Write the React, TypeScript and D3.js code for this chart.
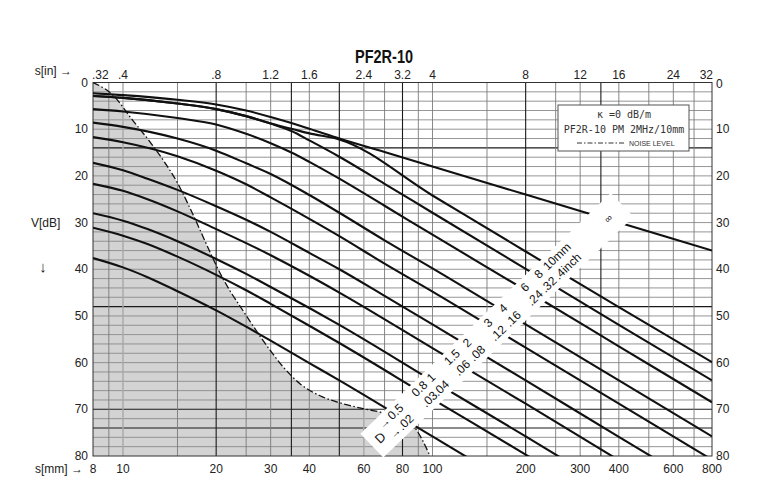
import React from 'react';
import * as d3 from 'd3';

// ---------- data ----------
const S_MM_TICKS = [8, 10, 20, 30, 40, 60, 80, 100, 200, 300, 400, 600, 800];
const S_IN_TICKS = ['.32', '.4', '.8', '1.2', '1.6', '2.4', '3.2', '4', '8', '12', '16', '24', '32'];
const DB_TICKS = [0, 10, 20, 30, 40, 50, 60, 70, 80];

const GRID_S = [9, 15, 25, 30, 40, 70, 90, 100, 150, 250, 300, 400, 500, 600, 700];
const GRID_S_LIGHT = [10, 60];
const GRID_S_DARK = [20, 35, 50, 80, 200, 350];
const GRID_DB_DARK = [14, 48, 70, 74];

const CURVE_INF = [[8, 2.3], [10, 2.7], [15, 3.7], [20, 4.7], [25, 6.0], [30, 7.4], [35, 8.7], [40, 9.9], [50, 12.0], [70, 14.9], [100, 18.0], [200, 24.0], [400, 30.0], [800, 36.0]];
const CURVE_D10 = [[8, 2.9], [10, 3.3], [15, 4.5], [20, 5.7], [25, 7.2], [30, 8.8], [35, 9.9], [40, 10.9], [50, 12.2], [100, 24.2], [200, 36.2], [400, 48.1], [800, 59.9]];
const CURVE_D8 = [[8, 2.9], [10, 3.3], [15, 4.5], [20, 5.7], [25, 7.2], [30, 8.8], [35, 10.4], [40, 12.4], [50, 15.9], [70, 21.7], [100, 27.9], [200, 39.9], [400, 51.9], [800, 63.8]];
const CURVE_D6 = [[8, 5.7], [10, 6.2], [15, 7.6], [20, 9.0], [25, 11.0], [30, 13.0], [35, 15.0], [40, 17.0], [50, 20.6], [70, 26.4], [100, 32.6], [200, 44.5], [400, 56.5], [800, 68.5]];
const CURVE_D4 = [[8, 8.6], [10, 9.5], [15, 12.0], [20, 14.6], [25, 17.3], [30, 19.6], [40, 24.1], [50, 27.9], [70, 33.8], [100, 39.8], [200, 51.8], [400, 63.8], [800, 75.8]];
const CURVE_D3 = [[8, 11.7], [10, 12.8], [15, 15.8], [20, 18.9], [25, 21.8], [30, 24.6], [40, 29.2], [50, 32.9], [70, 38.8], [100, 44.8], [200, 56.8], [400, 68.8], [800, 80.8]];
const CURVE_D2 = [[8, 17.2], [10, 18.8], [12, 20.6], [15, 23.0], [20, 26.5], [25, 29.4], [30, 32.0], [40, 36.5], [50, 40.0], [70, 45.7], [100, 51.8], [200, 63.8], [400, 75.9], [800, 87.9]];
const CURVE_D15 = [[8, 21.7], [10, 23.2], [12, 25.0], [15, 27.6], [20, 31.4], [25, 34.4], [30, 37.0], [40, 41.4], [50, 45.0], [100, 56.9], [200, 68.8], [400, 80.9]];
const CURVE_D1 = [[8, 28.0], [10, 29.6], [12, 31.4], [15, 34.0], [20, 37.8], [25, 41.0], [30, 43.8], [40, 48.3], [50, 51.9], [100, 63.9], [200, 75.8], [400, 87.9]];
const CURVE_D08 = [[8, 31.1], [10, 32.8], [12, 34.6], [15, 37.3], [20, 41.2], [25, 44.5], [30, 47.4], [40, 52.1], [50, 55.8], [100, 67.8], [200, 79.7], [400, 91.8]];
const CURVE_D05 = [[8, 37.6], [10, 39.6], [12, 41.7], [15, 44.7], [20, 48.8], [25, 52.3], [30, 55.3], [40, 60.1], [50, 63.8], [100, 75.8], [200, 87.8]];

const NOISE = [[8, 0], [9.28, 2.7], [10.78, 8.2], [12.22, 12.7], [13.67, 17.2], [14.94, 21.3], [16.46, 26.9], [17.74, 31.6], [19.1, 36.3], [20.58, 40.8], [22.16, 44.6], [23.88, 47.9], [25.7, 51.1], [27.7, 54.3], [29.85, 57.3], [32.9, 60.9], [37.3, 64.5], [43.3, 67.1], [50.2, 68.6], [58.3, 69.7], [67.7, 70.6], [78.5, 71.8], [87.8, 74.0], [98.2, 80]];

const ALL_CURVES = [CURVE_INF, CURVE_D10, CURVE_D8, CURVE_D6, CURVE_D4, CURVE_D3, CURVE_D2, CURVE_D15, CURVE_D1, CURVE_D08, CURVE_D05];
const D_CURVES = [CURVE_D05, CURVE_D08, CURVE_D1, CURVE_D15, CURVE_D2, CURVE_D3, CURVE_D4, CURVE_D6, CURVE_D8, CURVE_D10];
const D_MM = ['0.5', '0.8', '1', '1.5', '2', '3', '4', '6', '8', '10'];
const D_IN = ['.02', '.03', '.04', '.06', '.08', '.12', '.16', '.24', '.32', '.4'];

// band (white label strip) ends, in (s mm, dB)
const BAND_START = [63.7, 77.8];
const BAND_END = [410, 26.2];

const SANS = "'Liberation Sans', Arial, Helvetica, sans-serif";

function estW(t: string, fs: number) {
  let w = 0;
  for (const c of t) w += c === '.' ? 0.278 : 0.556;
  return w * fs;
}

export default function App() {
  const x = d3.scaleLog().domain([8, 800]).range([93, 712]);
  const y = d3.scaleLinear().domain([0, 80]).range([82.5, 456]);
  const [X0, X1] = x.range();
  const [Y0, Y1] = y.range();

  const line = d3.line<number[]>().x(d => x(d[0])).y(d => y(d[1])).curve(d3.curveMonotoneX);
  const area = d3.area<number[]>().x(d => x(d[0])).y0(y(80)).y1(d => y(d[1])).curve(d3.curveMonotoneX);

  const gridDb = d3.range(2, 80, 2);

  // band geometry
  const b0 = [x(BAND_START[0]), y(BAND_START[1])];
  const b1 = [x(BAND_END[0]), y(BAND_END[1])];
  const L = Math.hypot(b1[0] - b0[0], b1[1] - b0[1]);
  const u = [(b1[0] - b0[0]) / L, (b1[1] - b0[1]) / L];
  const n = [-u[1], u[0]];
  const ang = (Math.atan2(u[1], u[0]) * 180) / Math.PI;
  const hw = 16.5;
  const bandPts = [
    [b0[0] - hw * n[0], b0[1] - hw * n[1]],
    [b1[0] - hw * n[0], b1[1] - hw * n[1]],
    [b1[0] + hw * n[0], b1[1] + hw * n[1]],
    [b0[0] + hw * n[0], b0[1] + hw * n[1]],
  ];

  const crossing = (pts: number[][]) => {
    const P = pts.map(d => [x(d[0]), y(d[1])]);
    for (let i = 0; i < P.length - 1; i++) {
      const f0 = (P[i][0] - b0[0]) * n[0] + (P[i][1] - b0[1]) * n[1];
      const f1 = (P[i + 1][0] - b0[0]) * n[0] + (P[i + 1][1] - b0[1]) * n[1];
      if (f0 * f1 <= 0 && f0 !== f1) {
        const t = f0 / (f0 - f1);
        return [P[i][0] + t * (P[i + 1][0] - P[i][0]), P[i][1] + t * (P[i + 1][1] - P[i][1])];
      }
    }
    return [0, 0];
  };

  const at = (p: number[], du: number, dn: number) => [p[0] + du * u[0] + dn * n[0], p[1] + du * u[1] + dn * n[1]];

  const fsBand = 12;
  const bandTexts: { p: number[]; t: string; anchor: string; fs: number }[] = [];
  D_CURVES.forEach((c, i) => {
    const p = crossing(c);
    const last = i === D_CURVES.length - 1;
    if (last) {
      bandTexts.push({ p: at(p, -estW(D_MM[i], fsBand) / 2, -8), t: D_MM[i] + 'mm', anchor: 'start', fs: fsBand });
      bandTexts.push({ p: at(p, -estW(D_IN[i], fsBand) / 2, 6.5), t: D_IN[i] + 'inch', anchor: 'start', fs: fsBand });
    } else {
      bandTexts.push({ p: at(p, 0, -8), t: D_MM[i], anchor: 'middle', fs: fsBand });
      bandTexts.push({ p: at(p, 0, 6.5), t: D_IN[i], anchor: 'middle', fs: fsBand });
    }
  });
  const p05 = crossing(CURVE_D05);
  bandTexts.push({ p: at(p05, -29, 0), t: 'D', anchor: 'middle', fs: 13 });
  bandTexts.push({ p: at(p05, -16, -8), t: '→', anchor: 'middle', fs: 11 });
  bandTexts.push({ p: at(p05, -15, 6.5), t: '→', anchor: 'middle', fs: 11 });
  const pInf = crossing(CURVE_INF);
  bandTexts.push({ p: at(pInf, 1, 0), t: '∞', anchor: 'middle', fs: 10 });

  return (
    <svg width={767} height={500} style={{ position: 'absolute', left: 0, top: 0, background: '#fff' }}>
      <defs>
        <clipPath id="plotclip">
          <rect x={X0} y={Y0} width={X1 - X0} height={Y1 - Y0} />
        </clipPath>
      </defs>
      <rect x={0} y={0} width={767} height={500} fill="#fff" />

      {/* noise (shaded) region */}
      <path d={area(NOISE) || ''} fill="#d3d3d3" clipPath="url(#plotclip)" />

      {/* grid */}
      <g>
        {gridDb.map(v => (
          <line key={'h' + v} x1={X0} x2={X1} y1={y(v)} y2={y(v)}
            stroke={GRID_DB_DARK.includes(v) ? '#1a1a1a' : '#8a8a8a'} strokeWidth={GRID_DB_DARK.includes(v) ? 1.1 : 0.9} />
        ))}
        {GRID_S.map(v => (
          <line key={'v' + v} x1={x(v)} x2={x(v)} y1={Y0} y2={Y1} stroke="#7a7a7a" strokeWidth={0.9} />
        ))}
        {GRID_S_LIGHT.map(v => (
          <line key={'vl' + v} x1={x(v)} x2={x(v)} y1={Y0} y2={Y1} stroke="#a8a8a8" strokeWidth={1.4} />
        ))}
        {GRID_S_DARK.map(v => (
          <line key={'vd' + v} x1={x(v)} x2={x(v)} y1={Y0} y2={Y1} stroke="#1a1a1a" strokeWidth={1.1} />
        ))}
      </g>

      {/* frame */}
      <rect x={X0} y={Y0} width={X1 - X0} height={Y1 - Y0} fill="none" stroke="#333" strokeWidth={1} />

      {/* DGS curves */}
      <g clipPath="url(#plotclip)">
        {ALL_CURVES.map((c, i) => (
          <path key={i} d={line(c) || ''} fill="none" stroke="#111" strokeWidth={2.1} />
        ))}
        <path d={line(NOISE) || ''} fill="none" stroke="#111" strokeWidth={1.3} strokeDasharray="7,2.5,1.5,2.5" />
      </g>

      {/* label band */}
      <path d={'M' + bandPts.map(p => p.join(',')).join('L') + 'Z'} fill="#fff" />
      <g fontFamily={SANS} fill="#111">
        {bandTexts.map((b, i) => (
          <text key={i} transform={`translate(${b.p[0]},${b.p[1]}) rotate(${ang})`} textAnchor={b.anchor}
            dominantBaseline="central" fontSize={b.fs}>{b.t}</text>
        ))}
      </g>

      {/* legend box */}
      <g>
        <rect x={558} y={105} width={131} height={46} fill="#fff" stroke="#555" strokeWidth={1} />
        <text x={624} y={114} textAnchor="middle" dominantBaseline="central" fontFamily="'DejaVu Sans Mono', monospace" fontSize={10} fill="#333">κ =0 dB/m</text>
        <text x={624} y={129} textAnchor="middle" dominantBaseline="central" fontFamily="'DejaVu Sans Mono', monospace" fontSize={10} fill="#333">PF2R-10 PM 2MHz/10mm</text>
        <line x1={577} x2={625} y1={143} y2={143} stroke="#333" strokeWidth={1} strokeDasharray="5,2,1.5,2" />
        <text x={629} y={143} dominantBaseline="central" fontFamily={SANS} fontSize={7} fill="#333">NOISE LEVEL</text>
      </g>

      {/* axes labels */}
      <g fontFamily={SANS} fontSize={12} fill="#222">
        {S_IN_TICKS.map((t, i) => {
          const xv = x(S_MM_TICKS[i]);
          const first = i === 0, last = i === S_IN_TICKS.length - 1;
          return (
            <text key={'ti' + i} x={first ? xv - 1 : last ? xv + 1 : xv} y={75} dominantBaseline="central"
              textAnchor={first ? 'start' : last ? 'end' : 'middle'}>{t}</text>
          );
        })}
        {S_MM_TICKS.map(v => (
          <text key={'bm' + v} x={x(v)} y={469} textAnchor="middle" dominantBaseline="central">{v}</text>
        ))}
        {DB_TICKS.map(v => (
          <text key={'l' + v} x={88} y={y(v)} textAnchor="end" dominantBaseline="central">{v}</text>
        ))}
        {DB_TICKS.map(v => (
          <text key={'r' + v} x={716} y={y(v) + (v === 0 ? 1.5 : 0)} textAnchor="start" dominantBaseline="central">{v}</text>
        ))}
        <text x={72} y={71} textAnchor="end" dominantBaseline="central">s[in] →</text>
        <text x={83} y={469} textAnchor="end" dominantBaseline="central">s[mm] →</text>
        <text x={31} y={y(30)} textAnchor="start" dominantBaseline="central">V[dB]</text>
        <text x={43} y={266} textAnchor="middle" dominantBaseline="central" fontSize={15}>↓</text>
      </g>

      <text x={384} y={63} textAnchor="middle" fontFamily={SANS}
        fontWeight="bold" fontSize={19} fill="#111" textLength={58} lengthAdjust="spacingAndGlyphs">PF2R-10</text>
    </svg>
  );
}
